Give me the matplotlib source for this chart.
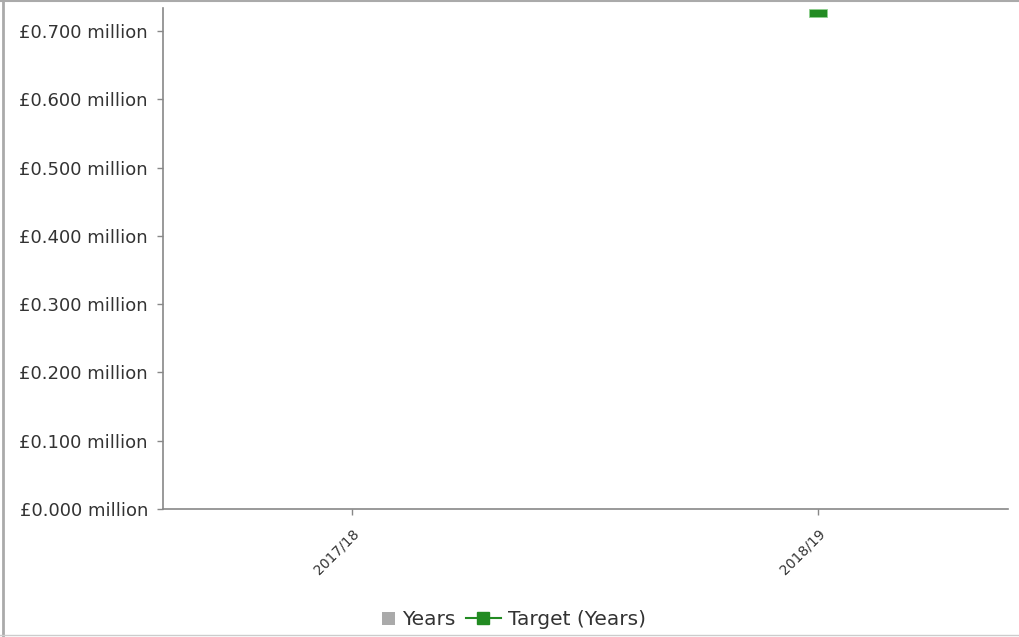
import matplotlib
matplotlib.use("Agg")
import matplotlib.pyplot as plt
from matplotlib.lines import Line2D
from matplotlib.patches import Rectangle, Patch
from matplotlib.legend_handler import HandlerPatch
import matplotlib.transforms as mtransforms
import numpy as np

categories = ["2017/18", "2018/19"]
years_values = [0.0, 0.0]
target_values = [np.nan, 0.726]
y_ticks = [0.0, 0.1, 0.2, 0.3, 0.4, 0.5, 0.6, 0.7]

GREEN = "#228B22"
GREY = "#aaaaaa"
TEXT = "#333333"

fig = plt.figure(figsize=(10.2, 6.37), dpi=100)
ax = fig.add_axes([0.1598, 0.2009, 0.8284, 0.7865])

x = np.arange(len(categories))
ax.bar(x, years_values, width=0.6, color=GREY)
ax.plot(x, target_values, color=GREEN, lw=1.5)
for xi, v in zip(x, target_values):
    if not np.isnan(v):
        ax.add_patch(Rectangle((xi - 0.019, v - 0.0058), 0.038, 0.0116,
                               facecolor=GREEN, edgecolor="#8fd08f", lw=0.6, zorder=5))

ax.set_xlim(-0.406, 1.408)
ax.set_ylim(0, 0.7337)
ax.set_xticks(x)
ax.set_xticklabels(categories, rotation=45, ha="right", va="center",
                   rotation_mode="anchor", fontsize=10, color=TEXT)
ax.set_yticks(y_ticks)
ax.set_yticklabels([f"£{v:.3f} million" for v in y_ticks], fontsize=13, color=TEXT)
for s in ["top", "right"]:
    ax.spines[s].set_visible(False)
for s in ["left", "bottom"]:
    ax.spines[s].set_color("#888888")
    ax.spines[s].set_linewidth(1.2)
ax.tick_params(axis="y", colors="#888888", length=4, width=1, pad=6.8, labelcolor=TEXT)
ax.tick_params(axis="x", colors="#888888", length=4.3, width=1, pad=12, labelcolor=TEXT)
offset = mtransforms.ScaledTranslation(5 / 100, 0, fig.dpi_scale_trans)
for lab in ax.get_xticklabels():
    lab.set_transform(lab.get_transform() + offset)


def square_right(legend, orig_handle, xdescent, ydescent, width, height, fontsize):
    s = 9.4
    return Rectangle((width - xdescent - s, -ydescent + (height - s) / 2), s, s)


handles = [
    Patch(facecolor=GREY, edgecolor="none"),
    Line2D([], [], marker="s", color=GREEN, lw=1.5, markersize=8.6),
]
fig.legend(handles, ["Years", "Target (Years)"], loc="center", bbox_to_anchor=(0.493, 0.027),
           ncol=2, frameon=False, fontsize=14.5, handlelength=1.75, handletextpad=0.35,
           columnspacing=0.5, labelcolor=TEXT,
           handler_map={Patch: HandlerPatch(patch_func=square_right)})

fig.add_artist(Line2D([0, 1], [0.9984, 0.9984], transform=fig.transFigure, color="#aaaaaa", lw=1.5))
fig.add_artist(Line2D([0.0025, 0.0025], [0, 1], transform=fig.transFigure, color="#aaaaaa", lw=2))
fig.add_artist(Line2D([0, 1], [0.0032, 0.0032], transform=fig.transFigure, color="#cccccc", lw=1))

fig.savefig("out.png", dpi=100)
